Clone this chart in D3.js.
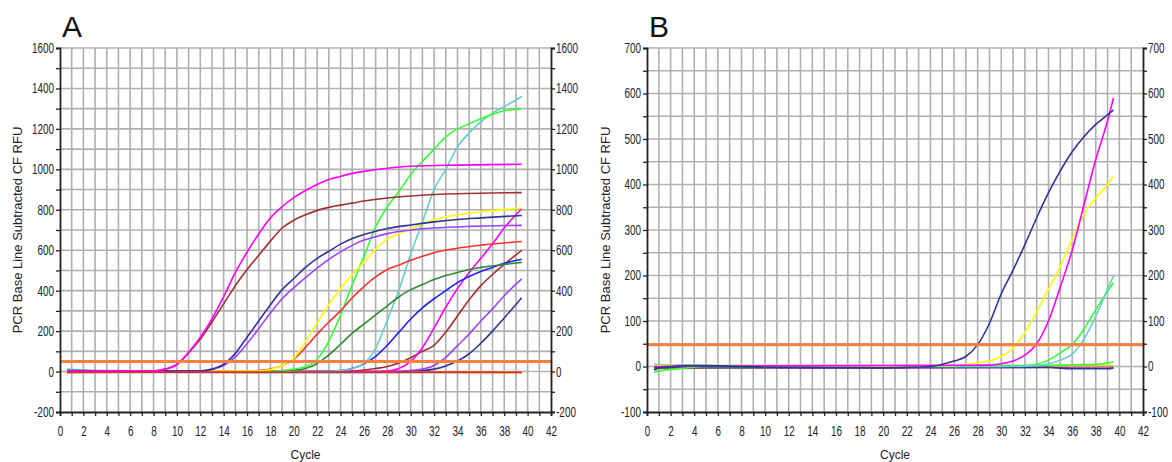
<!DOCTYPE html>
<html><head><meta charset="utf-8">
<script src="https://cdn.jsdelivr.net/npm/d3@7"></script>
<style>
body{margin:0;background:#fff}
svg{display:block}
.tick text{font-family:"Liberation Sans",Arial,sans-serif;font-size:14px;fill:#222}
</style></head><body>
<svg id="chart" width="1172" height="462"></svg>
<script>
// ---------- Panel A data: [cycle, RFU] ----------
const A_magenta1 = [[0.6,2],[8,3],[9,12],[10,35],[11,95],[12,170],[13,260],[14,370],[15,490],[16,590],[17,680],[18,760],[19,815],[20,860],[21,895],[22,925],[23,950],[24,965],[25,980],[26,990],[28,1005],[30,1015],[33,1020],[39.5,1025]];
const A_brown1 = [[0.6,0],[8,3],[9,12],[10,35],[11,92],[12,160],[13,245],[14,335],[15,425],[16,505],[17,575],[18,645],[19,710],[20,748],[21,775],[22,797],[23,812],[24,823],[25,833],[26,843],[28,858],[30,868],[33,878],[39.5,885]];
const A_navy1 = [[0.6,5],[12,3],[13,12],[14,36],[15,90],[16,170],[17,250],[18,330],[19,405],[20,460],[21,515],[22,560],[23,595],[24,630],[25,658],[26,678],[27,694],[28,707],[30,725],[32,740],[34,752],[36,760],[39.5,772]];
const A_purple1 = [[0.6,0],[12,2],[13,10],[14,30],[15,72],[16,138],[17,212],[18,290],[19,360],[20,415],[21,465],[22,512],[23,555],[24,592],[25,624],[26,650],[27,667],[28,682],[30,700],[32,710],[35,718],[39.5,723]];
const A_yellow = [[0.6,0],[17,3],[18,10],[19,30],[20,65],[21,150],[22,240],[23,330],[24,410],[25,480],[26,540],[27,605],[28,655],[29,682],[30,705],[31,730],[32,750],[34,775],[36,790],[39.5,808]];
const A_red = [[0.6,-3],[16,2],[17,5],[18,12],[19,30],[20,60],[21,120],[22,185],[23,245],[24,300],[25,365],[26,420],[27,468],[28,505],[29,527],[30,550],[31,570],[32,588],[34,610],[36,625],[39.5,643]];
const A_green = [[0.6,2],[18,2],[19,5],[20,12],[21,25],[22,60],[23,150],[24,280],[25,430],[26,570],[27,715],[28,815],[29,890],[30,975],[31,1040],[32,1100],[33,1160],[34,1200],[35,1225],[36,1250],[37,1272],[38,1290],[39.5,1298]];
const A_dkgreen = [[0.6,0],[18,2],[20,8],[21,15],[22,40],[23,82],[24,135],[25,190],[26,235],[27,280],[28,325],[29,370],[30,405],[31,430],[32,455],[33,475],[34,490],[35,505],[36,515],[38,530],[39.5,540]];
const A_cyan = [[0.6,12],[2,8],[4,2],[22,0],[24,5],[25,15],[26,40],[27,115],[28,255],[29,405],[30,580],[31,740],[32,900],[33,1000],[34,1110],[35,1180],[36,1235],[37,1278],[38,1310],[39.5,1360]];
const A_blue = [[0.6,8],[2,5],[4,0],[22,0],[24,5],[25,15],[26,38],[27,75],[28,130],[29,195],[30,260],[31,315],[32,360],[33,400],[34,440],[35,470],[36,495],[37,515],[38,535],[39.5,555]];
const A_magenta2 = [[0.6,0],[26,0],[28,3],[29,15],[30,50],[31,118],[32,215],[33,318],[34,410],[35,490],[36,560],[37,632],[38,710],[39.5,805]];
const A_brown2 = [[0.6,0],[24,0],[26,8],[27,15],[28,25],[29,42],[30,68],[31,100],[32,130],[33,195],[34,275],[35,355],[36,425],[37,480],[38,530],[39.5,600]];
const A_purple2 = [[0.6,0],[28,0],[30,5],[31,12],[32,30],[33,70],[34,128],[35,185],[36,250],[37,310],[38,375],[39.5,458]];
const A_navy2 = [[0.6,0],[28,0],[31,5],[32,12],[33,28],[34,52],[35,88],[36,140],[37,200],[38,265],[39.5,365]];
const A_flatCyan = [[0.6,-6],[12,-6],[24,-7],[39.5,-6]];
const A_flatNavy = [[0.6,-3],[20,-3],[39.5,-3]];
const A_flatYellow = [[0.6,-2],[20,-2],[39.5,-4]];
const A_flatRed = [[0.6,-4],[10,-3],[20,-3],[30,-3],[39.5,-4]];
const A_threshold = 50;

// ---------- Panel B data ----------
const B_navy = [[0.6,-8],[1,-3],[2,0],[3,2],[5,2],[8,0],[12,-2],[20,-3],[22,-2],[24,0],[25,5],[26,12],[27,22],[28,48],[29,95],[30,160],[31,212],[32,268],[33,327],[34,382],[35,430],[36,472],[37,505],[38,532],[39,553],[39.5,564]];
const B_magenta = [[0.6,0],[14,2],[29,3],[30,6],[31,12],[32,25],[33,50],[34,100],[35,175],[36,255],[37,355],[38,455],[39,540],[39.5,590]];
const B_yellow = [[0.6,2],[26,2],[27,5],[28,8],[29,12],[30,22],[31,40],[32,75],[33,120],[34,170],[35,220],[36,280],[37,335],[38,370],[39,400],[39.5,418]];
const B_cyan = [[0.6,3],[30,0],[33,2],[34,6],[35,14],[36,27],[37,60],[38,110],[39,170],[39.5,199]];
const B_green = [[0.6,-12],[1.5,-8],[3,-4],[5,0],[30,0],[32,2],[33,5],[34,14],[35,30],[36,48],[37,82],[38,125],[39,165],[39.5,184]];
const B_flatGreen = [[0.6,5],[5,0],[30,2],[38,5],[39.5,10]];
const B_flatOlive = [[0.6,-5],[20,0],[39.5,2]];
const B_flatNavy = [[0.6,-3],[34,-2],[36,-5],[39,-5],[39.5,-3]];
const B_flatPurple = [[0.6,-3],[20,-3],[39.5,-1]];
const B_threshold = 48;

// ---------- ticks ----------
const xTicks = [0,2,4,6,8,10,12,14,16,18,20,22,24,26,28,30,32,34,36,38,40,42];
const A_yTicks = [-200,0,200,400,600,800,1000,1200,1400,1600];
const B_yTicks = [-100,0,100,200,300,400,500,600,700];

const svg = d3.select("#chart");

const panels = [
  {letter:"A", left:60, right:551, top:48, bottom:412, yMin:-200, yMax:1600, yStep:100, yLabels:A_yTicks,
   threshold:A_threshold, labelX:18,
   series:[
    [A_flatCyan,"#66cccc"],[A_flatNavy,"#333399"],[A_flatYellow,"#ffff00"],
    [A_navy2,"#333399"],[A_purple2,"#a040ff"],[A_brown2,"#a03030"],[A_magenta2,"#ff00ff"],
    [A_blue,"#2020ff"],[A_cyan,"#66cccc"],[A_dkgreen,"#2e8b2e"],[A_green,"#33ff33"],
    [A_red,"#ff3030"],[A_yellow,"#ffff00"],[A_purple1,"#a040ff"],[A_navy1,"#333399"],
    [A_brown1,"#a03030"],[A_magenta1,"#ff00ff"]
   ], top_series:[[A_flatRed,"#ff2020"]]},
  {letter:"B", left:647, right:1143, top:48, bottom:412, yMin:-100, yMax:700, yStep:50, yLabels:B_yTicks,
   threshold:B_threshold, labelX:606,
   series:[
    [B_flatPurple,"#cc33cc"],[B_flatOlive,"#ccdd00"],[B_flatNavy,"#333399"],[B_flatGreen,"#33ff33"],
    [B_green,"#33ff33"],[B_cyan,"#66cccc"],[B_yellow,"#ffff00"],[B_magenta,"#ff00ff"],[B_navy,"#333399"]
   ], top_series:[]}
];

function narrow(sel){
  sel.selectAll(".tick text").each(function(){
    const t = d3.select(this).text();
    if(!t) return;
    let w = 0;
    for(const ch of t) w += (ch === "-") ? 3.5 : 5.5;
    d3.select(this).attr("textLength", w).attr("lengthAdjust","spacingAndGlyphs");
  });
}

panels.forEach(p => {
  const x = d3.scaleLinear().domain([0,42]).range([p.left,p.right]);
  const y = d3.scaleLinear().domain([p.yMin,p.yMax]).range([p.bottom,p.top]);
  const g = svg.append("g");

  // grid
  const xs = d3.range(1,42);
  g.selectAll(".vg").data(xs).join("line")
    .attr("x1",d=>x(d)).attr("x2",d=>x(d)).attr("y1",p.top).attr("y2",p.bottom)
    .attr("stroke","#b0b0b0").attr("stroke-width",1.6);
  const ys = d3.range(p.yMin+p.yStep, p.yMax+1, p.yStep);
  g.selectAll(".hg").data(ys).join("line")
    .attr("x1",p.left).attr("x2",p.right).attr("y1",d=>y(d)).attr("y2",d=>y(d))
    .attr("stroke","#b0b0b0").attr("stroke-width",1.6);

  // curves
  const line = d3.line().x(d=>x(d[0])).y(d=>y(d[1])).curve(d3.curveMonotoneX);
  const cg = g.append("g");
  p.series.forEach(([data,col]) => {
    cg.append("path").attr("d",line(data)).attr("fill","none").attr("stroke",col).attr("stroke-width",1.6);
  });
  // threshold
  g.append("line").attr("x1",p.left).attr("x2",p.right).attr("y1",y(p.threshold)).attr("y2",y(p.threshold))
    .attr("stroke","#ff8040").attr("stroke-width",3);
  p.top_series.forEach(([data,col]) => {
    g.append("path").attr("d",line(data)).attr("fill","none").attr("stroke",col).attr("stroke-width",1.6);
  });

  // axes
  const allY = d3.range(p.yMin, p.yMax+1, p.yStep);
  const fmt = d => p.yLabels.includes(d) ? String(d) : "";
  const axL = g.append("g").attr("transform",`translate(${p.left},0)`)
    .call(d3.axisLeft(y).tickValues(allY).tickSize(4).tickPadding(2).tickFormat(fmt));
  const axR = g.append("g").attr("transform",`translate(${p.right},0)`)
    .call(d3.axisRight(y).tickValues(allY).tickSize(4).tickPadding(1).tickFormat(fmt));
  const axB = g.append("g").attr("transform",`translate(0,${p.bottom})`)
    .call(d3.axisBottom(x).tickValues(d3.range(0,43)).tickSize(4).tickPadding(10)
      .tickFormat(d => xTicks.includes(d) ? String(d) : ""));
  [axL,axR,axB].forEach(a => {
    a.select(".domain").attr("stroke","#222").attr("stroke-width",1.8);
    a.selectAll(".tick line").attr("stroke","#222").attr("stroke-width",1.3);
    narrow(a);
  });

  // labels
  svg.append("text").attr("x",p.left+2).attr("y",37).text(p.letter)
    .attr("font-family","Liberation Sans, Arial, sans-serif").attr("font-size",30).attr("fill","#111");
  svg.append("text").attr("x",(p.left+p.right)/2).attr("y",459).attr("text-anchor","middle")
    .attr("font-family","Liberation Sans, Arial, sans-serif").attr("font-size",12).attr("fill","#222").text("Cycle");
  svg.append("text").attr("transform",`translate(${p.labelX+4},${(p.top+p.bottom)/2}) rotate(-90)`)
    .attr("text-anchor","middle")
    .attr("font-family","Liberation Sans, Arial, sans-serif").attr("font-size",13).attr("fill","#222")
    .text("PCR Base Line Subtracted CF RFU");
});
</script>
</body></html>
